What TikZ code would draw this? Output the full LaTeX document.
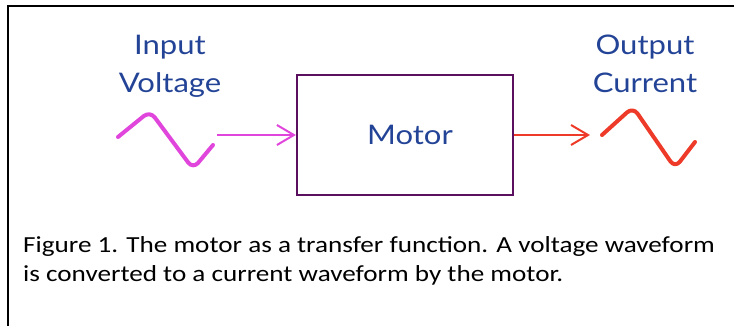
\documentclass[tikz,border=0pt]{standalone}
\usepackage{fontspec}
\setmainfont[FakeStretch=1.18]{Carlito}
\newfontfamily\labelfont[FakeStretch=1.15]{Lato}
\usetikzlibrary{arrows.meta,positioning}
\definecolor{lblblue}{RGB}{35,67,150}
\definecolor{wavepink}{RGB}{225,70,220}
\definecolor{wavered}{RGB}{238,58,40}
\definecolor{boxpurple}{RGB}{90,16,95}

\begin{document}
\begin{tikzpicture}[
      x=1pt, y=-1pt,
      mylabel/.style={
         text=lblblue,
         align=center,
         anchor=north,
         inner sep=0pt,
         font=\labelfont\fontsize{27}{38}\selectfont},
      myblock/.style={
         rectangle,
         draw=boxpurple,
         line width=2.2pt,
         minimum width=216pt,
         minimum height=120pt,
         text=lblblue,
         font=\labelfont\fontsize{27}{37}\selectfont},
      mywave/.style={line width=4pt, line cap=round, line join=round, rounded corners=8pt},
      myarrow/.style={line width=2pt, -{Straight Barb[length=17pt,width=20pt]}},
      mycaption/.style={anchor=north west, align=left, inner sep=0pt,
         font=\fontsize{23}{29}\selectfont}
      ]
\useasboundingbox (0,0) rectangle (734,325);
\clip (0,0) rectangle (734,325);
% outer frame, cut at the right and bottom
\draw[line width=2pt] (7.5,340) |- (750,5.5);

\node[myblock] (motor) at (405,135) {\hspace*{10pt}Motor};

% input side
\node[mylabel] (inlbl) at (170,35) {Input\\Voltage};
\draw[mywave, wavepink] (118,137) -- (150,111) -- (193,169) -- (213,145);
\coordinate (instart) at (217,135);
\draw[myarrow, wavepink] (instart) -- (motor.west);

% output side
\node[mylabel] (outlbl) at (645,35) {Output\\Current};
\coordinate (outend) at (590,135);
\draw[myarrow, wavered] (motor.east) -- (outend);
\draw[mywave, wavered] (602,135) -- (633,107) -- (675,168) -- (695,142);

\node[mycaption] (caption) at (23,236)
   {Figure 1. The motor as a transfer function. A voltage waveform\\
    is converted to a current waveform by the motor.};
\end{tikzpicture}
\end{document}
